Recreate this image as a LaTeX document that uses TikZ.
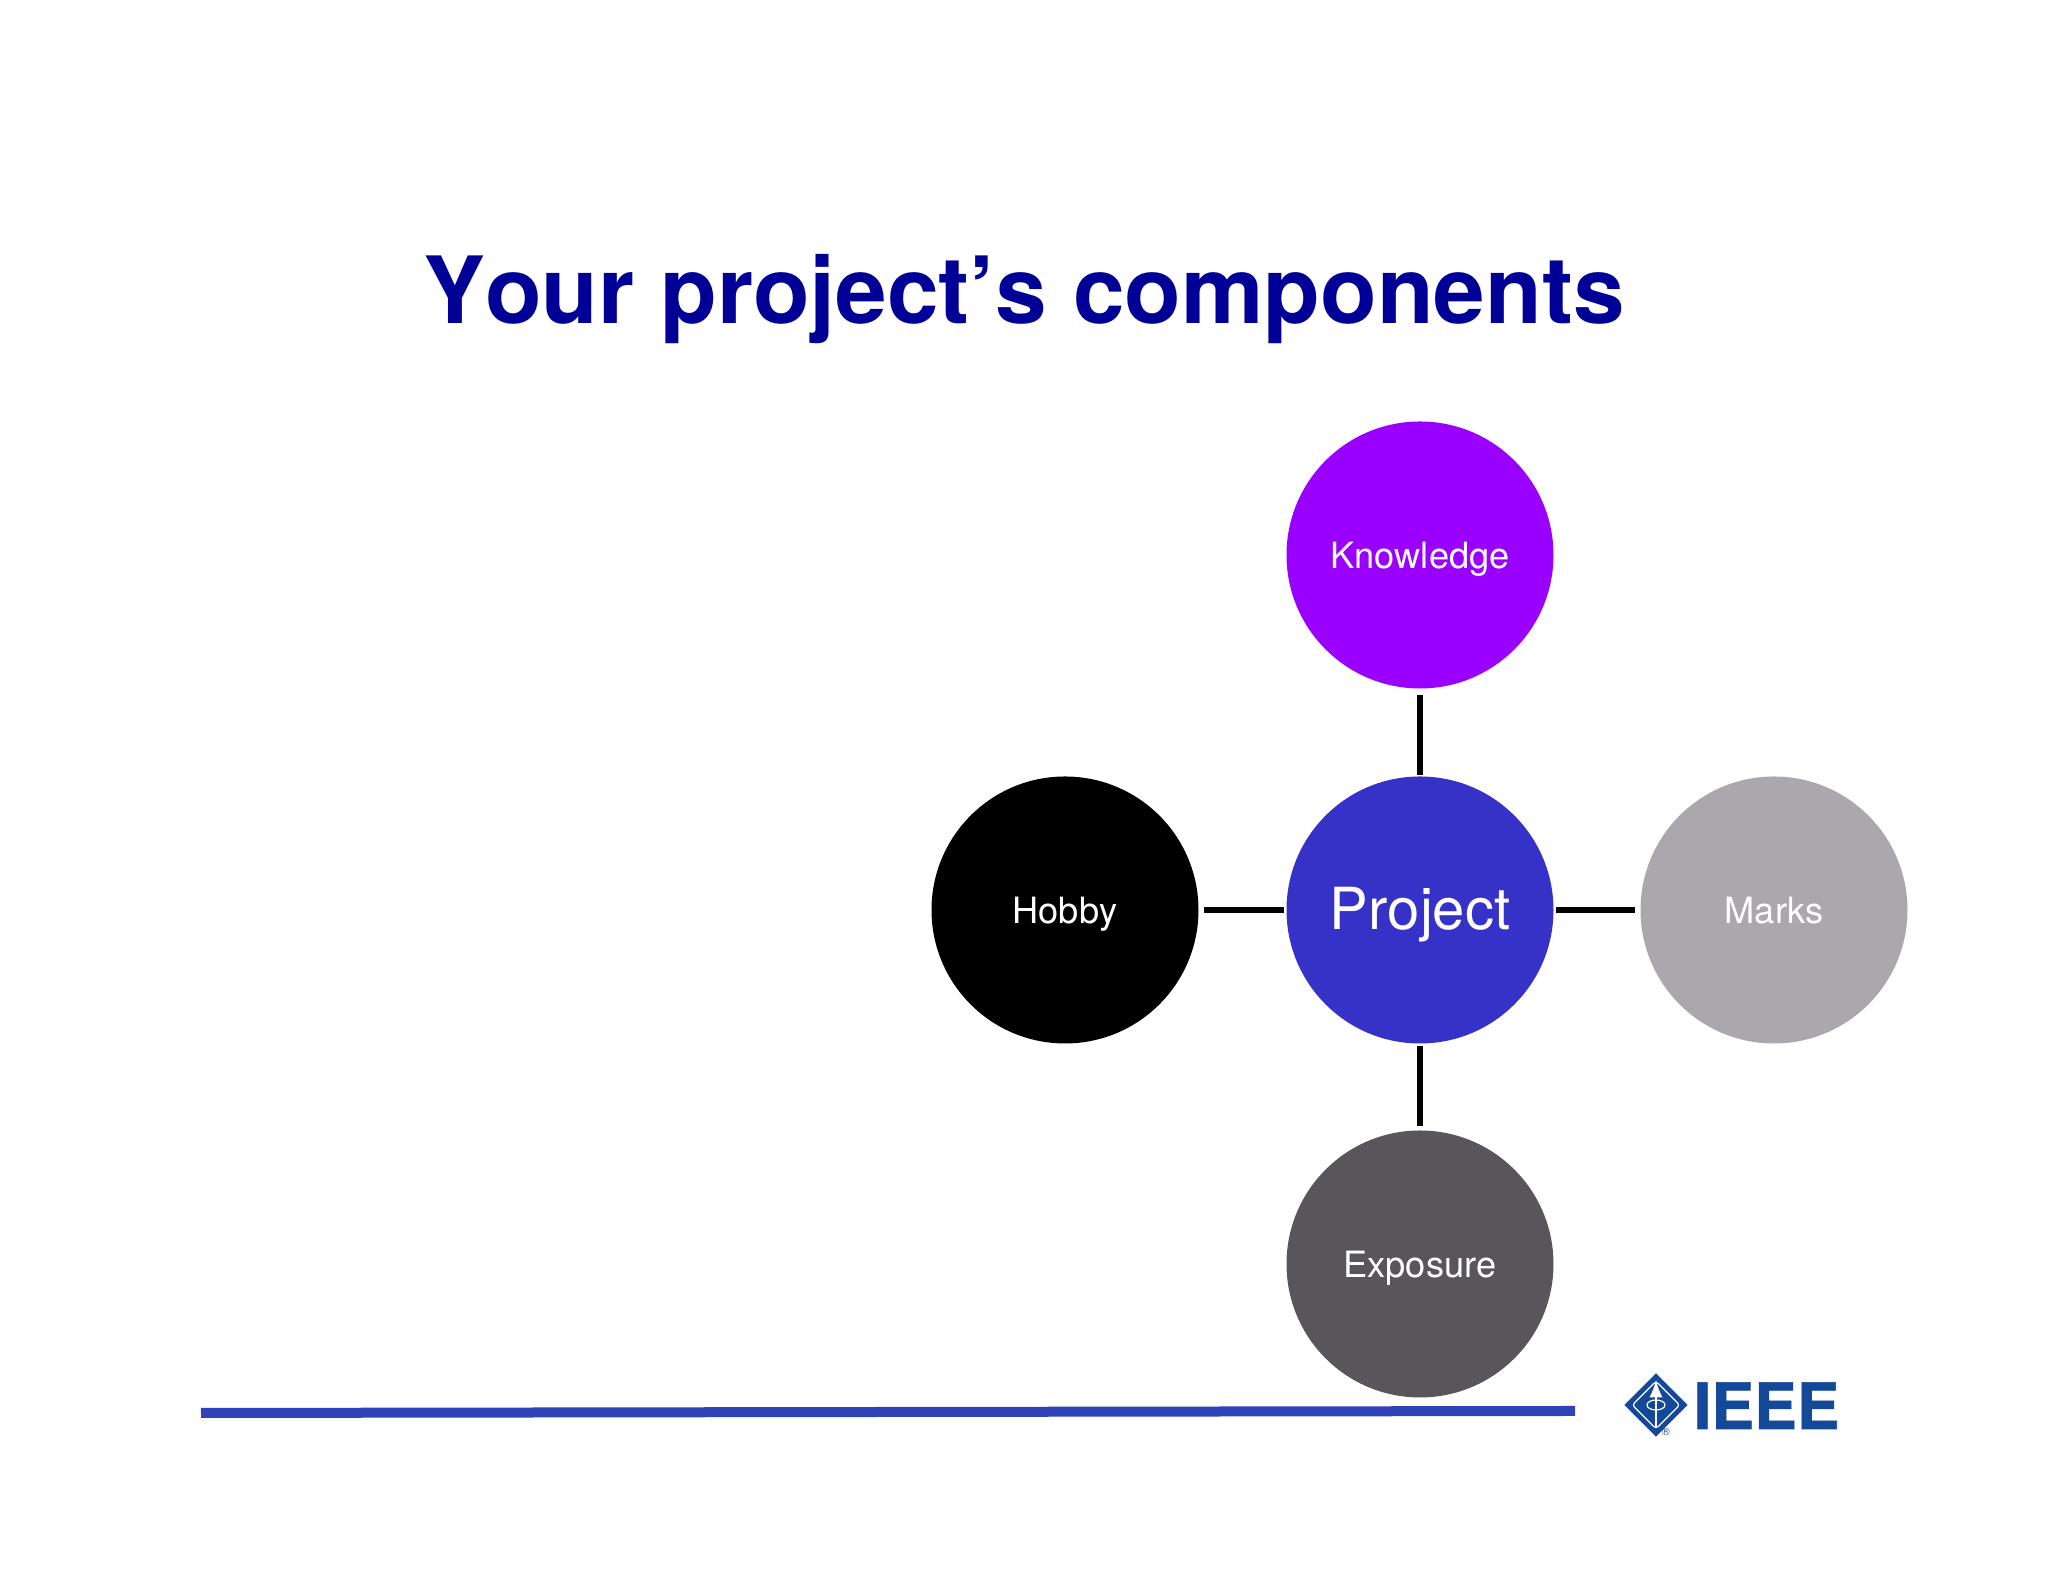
\documentclass[tikz,border=0pt]{standalone}
\usepackage{fontspec}
\setmainfont[Kerning=Off]{TeX Gyre Heros}
\usetikzlibrary{shapes.geometric}
\definecolor{titleblue}{RGB}{0,0,150}
\definecolor{projectblue}{RGB}{54,50,200}
\definecolor{knowledgepurple}{RGB}{153,0,255}
\definecolor{marksgrey}{RGB}{170,168,172}
\definecolor{exposuregrey}{RGB}{88,86,90}
\definecolor{ruleblue}{RGB}{48,66,184}
\definecolor{logoblue}{RGB}{20,72,152}
\tikzset{
	comp/.style={circle, minimum size=2.67cm, inner sep=0pt, text=white, text depth=0pt, font=\fontsize{10.3}{12}\selectfont},
	link/.style={line width=0.055cm, black},
}

\begin{document}
\begin{tikzpicture}
	\useasboundingbox (0,0) rectangle (20.48,15.82);
	\node (title) [anchor=base, text=titleblue, font=\fontsize{26.4}{30}\selectfont\bfseries] at (10.24,12.58) {Your project’s components};
	\node (P) [comp, fill=projectblue, text depth=0.1em, font=\fontsize{16.5}{20}\selectfont] at (14.20,6.72) {Project};
	\node (K) [comp, fill=knowledgepurple] at (14.20,10.27) {Knowledge};
	\node (H) [comp, fill=black] at (10.65,6.72) {Hobby};
	\node (M) [comp, fill=marksgrey] at (17.74,6.72) {Marks};
	\node (E) [comp, fill=exposuregrey] at (14.20,3.18) {Exposure};
	\draw [link, shorten <=0.06cm, shorten >=0.01cm] (K) -- (P);
	\draw [link, shorten <=0.05cm, shorten >=0.02cm] (H) -- (P);
	\draw [link, shorten <=0.05cm, shorten >=0.02cm] (M) -- (P);
	\draw [link, shorten <=0.04cm, shorten >=0.02cm] (E) -- (P);
	% rule along the bottom
	\coordinate (r1) at (2.01,1.69);
	\coordinate (r2) at (15.75,1.71);
	\draw [line width=0.10cm, ruleblue] (r1) -- (r2);
	% logo
	\node (D) [diamond, fill=logoblue, minimum size=0.64cm, inner sep=0pt] at (16.56,1.77) {};
	\node (R) [diamond, draw=white, line width=0.012cm, rounded corners=0.03cm, minimum size=0.48cm, inner sep=0pt] at (D) {};
	\draw [white, line width=0.025cm, -latex] (16.56,1.55) -- (16.56,2.02);
	\draw [white, line width=0.012cm] (D) ellipse (0.09cm and 0.05cm);
	\node (logo) [anchor=base west, inner sep=0pt, text=logoblue, font=\fontsize{18.2}{20}\selectfont\bfseries\addfontfeature{FakeBold=1}] at (16.93,1.53) {IEEE};
	\node (reg) [inner sep=0pt, text=logoblue, font=\fontsize{3}{3}\selectfont] at (16.66,1.50) {®};
\end{tikzpicture}
\end{document}
